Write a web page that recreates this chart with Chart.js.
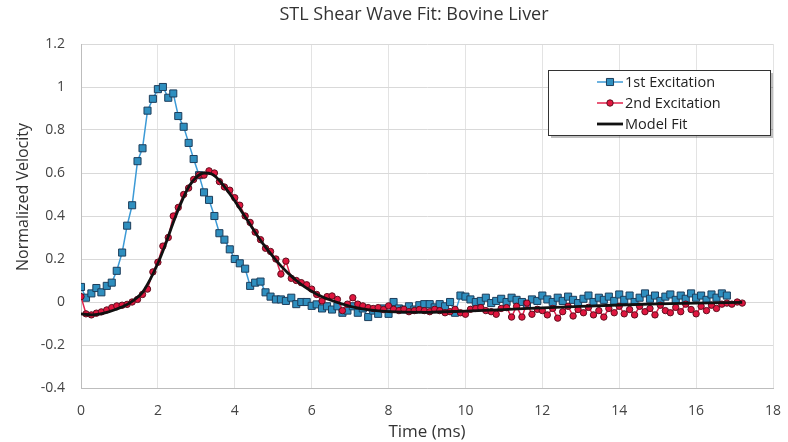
<!DOCTYPE html>
<html>
<head>
<meta charset="utf-8">
<script src="https://cdn.jsdelivr.net/npm/chart.js@4.4.1/dist/chart.umd.min.js"></script>
<style>
  html, body { margin: 0; padding: 0; background: #fff; }
  #wrap { width: 788px; height: 442px; }
</style>
</head>
<body>
<div id="wrap"><canvas id="chart" width="788" height="442"></canvas></div>
<script>
// ------------------------- DATA -------------------------
// sample times (ms), shared by both excitations
const TIME = [
  0, 0.13, 0.27, 0.4, 0.53, 0.67, 0.8, 0.93, 1.07, 1.2, 1.33, 1.47, 1.6, 1.73, 1.87,
  2, 2.13, 2.27, 2.4, 2.53, 2.67, 2.8, 2.93, 3.07, 3.2, 3.33, 3.47, 3.6, 3.73, 3.87,
  4, 4.13, 4.27, 4.4, 4.53, 4.67, 4.8, 4.93, 5.07, 5.2, 5.33, 5.47, 5.6, 5.73, 5.87,
  6, 6.13, 6.27, 6.4, 6.53, 6.67, 6.8, 6.93, 7.07, 7.2, 7.33, 7.47, 7.6, 7.73, 7.87,
  8, 8.13, 8.27, 8.4, 8.53, 8.67, 8.8, 8.93, 9.07, 9.2, 9.33, 9.47, 9.6, 9.73, 9.87,
  10, 10.13, 10.27, 10.4, 10.53, 10.67, 10.8, 10.93, 11.07, 11.2, 11.33, 11.47, 11.6, 11.73, 11.87,
  12, 12.13, 12.27, 12.4, 12.53, 12.67, 12.8, 12.93, 13.07, 13.2, 13.33, 13.47, 13.6, 13.73, 13.87,
  14, 14.13, 14.27, 14.4, 14.53, 14.67, 14.8, 14.93, 15.07, 15.2, 15.33, 15.47, 15.6, 15.73, 15.87,
  16, 16.13, 16.27, 16.4, 16.53, 16.67, 16.8, 16.93, 17.07, 17.2
];

// 1st excitation (blue squares)
const FIRST = [
  0.07, 0.02, 0.04, 0.065, 0.045, 0.075, 0.09, 0.145, 0.23, 0.355, 0.45, 0.655, 0.715, 0.89, 0.945,
  0.99, 1.0, 0.95, 0.97, 0.865, 0.815, 0.74, 0.665, 0.59, 0.51, 0.475, 0.40, 0.32, 0.29, 0.245,
  0.20, 0.18, 0.155, 0.075, 0.09, 0.095, 0.045, 0.025, 0.012, 0.012, 0.005, 0.02, -0.01, 0.0, 0.0,
  -0.018, -0.011, -0.03, -0.02, -0.035, -0.02, -0.05, -0.04, -0.02, -0.05, -0.03, -0.07, -0.04, -0.055, -0.03,
  -0.055, 0.0, -0.03, -0.035, -0.02, -0.035, -0.015, -0.01, -0.01, -0.025, -0.01, -0.02, 0.0, -0.05, 0.03,
  0.025, 0.012, 0.0, 0.005, 0.02, -0.005, 0.005, 0.015, 0.0, 0.02, 0.01, 0.0, -0.01, 0.012, 0.005,
  0.03, 0.012, 0.0, 0.02, 0.005, 0.025, 0.01, -0.005, 0.015, 0.03, 0.0, 0.02, 0.01, 0.025, 0.005,
  0.035, 0.01, 0.03, 0.0, 0.02, 0.04, 0.015, 0.03, 0.005, 0.025, 0.035, 0.01, 0.03, 0.015, 0.04,
  0.02, 0.03, 0.01, 0.035, 0.02, 0.04, 0.03
];

// 2nd excitation (red circles)
const SECOND = [
  0.025, -0.055, -0.06, -0.052, -0.046, -0.037, -0.026, -0.018, -0.015, -0.011, 0.0, 0.012, 0.035, 0.06, 0.14,
  0.185, 0.26, 0.30, 0.40, 0.44, 0.50, 0.53, 0.57, 0.59, 0.59, 0.61, 0.60, 0.56, 0.535, 0.52,
  0.485, 0.45, 0.40, 0.37, 0.325, 0.29, 0.25, 0.235, 0.20, 0.13, 0.19, 0.11, 0.10, 0.09, 0.08,
  0.06, 0.035, 0.005, 0.025, 0.028, 0.012, -0.04, -0.01, 0.02, -0.01, -0.018, -0.026, -0.03, -0.026, -0.035,
  -0.018, -0.034, -0.04, -0.034, -0.045, -0.04, -0.035, -0.04, -0.045, -0.034, -0.04, -0.05, -0.045, -0.034, -0.05,
  -0.057, -0.034, -0.03, -0.026, -0.04, -0.045, -0.057, -0.03, -0.026, -0.07, -0.02, -0.07, -0.005, -0.057, -0.034,
  -0.04, -0.06, -0.03, -0.075, -0.045, -0.02, -0.065, -0.035, -0.05, -0.025, -0.06, -0.04, -0.07, -0.03, -0.05,
  -0.02, -0.055, -0.035, -0.06, -0.02, -0.045, -0.03, -0.06, -0.015, -0.04, -0.05, -0.025, -0.045, -0.01, -0.035,
  -0.055, -0.02, -0.04, -0.015, -0.03, -0.01, -0.005, -0.01, 0.0, -0.005
];

// model fit curve
const FIT_T = [0, 0.3, 0.6, 0.9, 1.2, 1.4, 1.6, 1.8, 2.0, 2.2, 2.4, 2.6, 2.8, 3.0, 3.2, 3.4, 3.6, 3.8, 4.0, 4.2,
  4.4, 4.6, 4.8, 5.0, 5.2, 5.4, 5.6, 5.8, 6.0, 6.2, 6.5, 7.0, 7.5, 8.0, 9.0, 10, 11, 12, 13, 14, 15, 16, 17.2];
const FIT_V = [-0.055, -0.06, -0.052, -0.035, -0.012, 0.012, 0.045, 0.105, 0.18, 0.27, 0.37, 0.46, 0.535, 0.58, 0.60,
  0.595, 0.565, 0.52, 0.47, 0.415, 0.36, 0.305, 0.255, 0.21, 0.168, 0.132, 0.10, 0.073, 0.05, 0.03, 0.008,
  -0.02, -0.037, -0.045, -0.048, -0.042, -0.035, -0.027, -0.02, -0.014, -0.009, -0.005, -0.002];

const LEGEND_LABELS = ['1st Excitation', '2nd Excitation', 'Model Fit'];
const TITLE = 'STL Shear Wave Fit: Bovine Liver';
const Y_TITLE = 'Normalized Velocity';

const BLUE_LINE = '#3c9ad6';
const BLUE_FILL = '#2f8fbf';
const BLUE_EDGE = '#1d3e5c';
const RED_LINE = '#e2234d';
const RED_FILL = '#e0163f';
const RED_EDGE = '#5e0f1e';
const FIT_COLOR = '#111111';
const FONT = "'Open Sans', 'Liberation Sans', sans-serif";

// ------------------------- LEGEND (inside plot, boxed) + TITLES -------------------------
const boxLegend = {
  id: 'boxLegend',
  afterDraw(chart) {
    const ctx = chart.ctx;
    const x = 548, y = 70, w = 222, h = 65;
    ctx.save();
    ctx.fillStyle = 'rgba(0,0,0,0.25)';
    ctx.fillRect(x + 3, y + 3, w, h);
    ctx.fillStyle = '#fff';
    ctx.fillRect(x, y, w, h);
    ctx.strokeStyle = '#333';
    ctx.lineWidth = 1;
    ctx.strokeRect(x + 0.5, y + 0.5, w, h);

    const rows = [82, 103, 124];
    ctx.font = '14.5px ' + FONT;
    ctx.textBaseline = 'middle';
    rows.forEach((ry, i) => {
      const ds = chart.data.datasets.find(d => d.label === LEGEND_LABELS[i]);
      ctx.strokeStyle = ds.borderColor;
      ctx.lineWidth = ds.borderWidth;
      ctx.beginPath();
      ctx.moveTo(597, ry);
      ctx.lineTo(623, ry);
      ctx.stroke();
      if (ds.pointRadius > 0) {
        ctx.fillStyle = ds.pointBackgroundColor;
        ctx.strokeStyle = ds.pointBorderColor;
        ctx.lineWidth = 1;
        ctx.beginPath();
        if (ds.pointStyle === 'rect') {
          const s = ds.pointRadius * Math.SQRT1_2;
          ctx.rect(610 - s, ry - s, 2 * s, 2 * s);
        } else {
          ctx.arc(610, ry, ds.pointRadius, 0, Math.PI * 2);
        }
        ctx.fill();
        ctx.stroke();
      }
      ctx.fillStyle = '#222';
      ctx.fillText(LEGEND_LABELS[i], 625, ry + 1);
    });

    // chart title (slightly right of canvas centre, as in the original)
    ctx.textAlign = 'center';
    ctx.fillStyle = '#333';
    ctx.font = '18px ' + FONT;
    ctx.fillText(TITLE, 414, 15);

    // y axis title (sits a bit above the plot centre)
    ctx.translate(23, 197);
    ctx.rotate(-Math.PI / 2);
    ctx.font = '16px ' + FONT;
    ctx.fillText(Y_TITLE, 0, 0);
    ctx.restore();
  }
};

// ------------------------- CHART -------------------------
window.onload = () => {
  new Chart(document.getElementById('chart').getContext('2d'), {
    type: 'line',
    data: {
      datasets: [
        {
          label: '1st Excitation',
          data: FIRST.map((v, i) => ({ x: TIME[i], y: v })),
          borderColor: BLUE_LINE, borderWidth: 1.5,
          pointStyle: 'rect', pointRadius: 5,
          pointBackgroundColor: BLUE_FILL, pointBorderColor: BLUE_EDGE, pointBorderWidth: 1,
          order: 3
        },
        {
          label: '2nd Excitation',
          data: SECOND.map((v, i) => ({ x: TIME[i], y: v })),
          borderColor: RED_LINE, borderWidth: 1.5,
          pointStyle: 'circle', pointRadius: 3.2,
          pointBackgroundColor: RED_FILL, pointBorderColor: RED_EDGE, pointBorderWidth: 1,
          order: 2
        },
        {
          label: 'Model Fit',
          data: FIT_T.map((t, i) => ({ x: t, y: FIT_V[i] })),
          borderColor: FIT_COLOR, borderWidth: 2.8,
          pointRadius: 0,
          cubicInterpolationMode: 'monotone',
          order: 1
        }
      ]
    },
    options: {
      responsive: false,
      animation: false,
      layout: { padding: { left: 0, right: 15, top: 44, bottom: 0 } },
      plugins: {
        legend: { display: false },
        tooltip: { enabled: false },
        title: { display: false }
      },
      scales: {
        x: {
          type: 'linear', min: 0, max: 18,
          ticks: { stepSize: 2, color: '#444', font: { family: FONT, size: 14 }, padding: 15 },
          grid: { color: '#e3e3e3', drawTicks: false },
          border: { color: '#bdbdbd' },
          title: { display: true, text: 'Time (ms)', color: '#333', font: { family: FONT, size: 17 }, padding: { top: 0, bottom: 0 } },
          afterFit(scale) {
            scale.height = 54;
            // tick padding would otherwise widen the right margin
            scale.paddingLeft = 0;
            scale.paddingRight = 0;
          }
        },
        y: {
          min: -0.4, max: 1.2,
          ticks: {
            stepSize: 0.2, color: '#444', font: { family: FONT, size: 14 }, padding: 16,
            callback: v => String(Math.round(v * 10) / 10)
          },
          grid: { color: '#d9d9d9', drawTicks: false },
          border: { color: '#bdbdbd' },
          afterFit(scale) {
            scale.width = 81;
            scale.paddingTop = 0;
            scale.paddingBottom = 0;
          }
        }
      }
    },
    plugins: [boxLegend]
  });
};
</script>
</body>
</html>
